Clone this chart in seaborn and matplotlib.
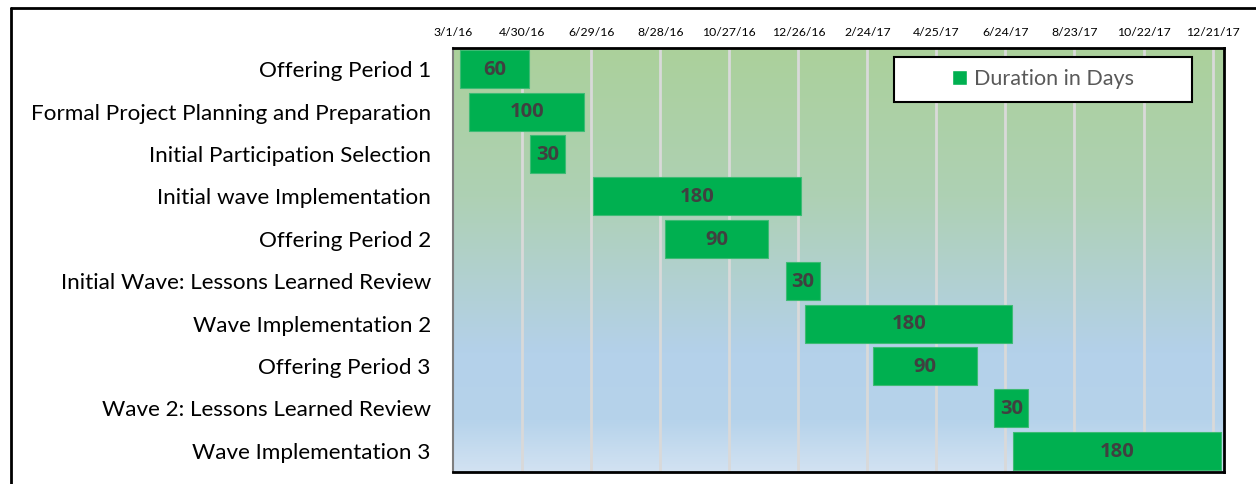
import numpy as np
import pandas as pd
import matplotlib
matplotlib.use('Agg')
import matplotlib.pyplot as plt
import matplotlib.dates as mdates
from matplotlib.colors import LinearSegmentedColormap
from matplotlib.lines import Line2D
from matplotlib.patches import Rectangle, Patch
import seaborn as sns

# ---- data ----
tasks = [
    'Offering Period 1',
    'Formal Project Planning and Preparation',
    'Initial Participation Selection',
    'Initial wave Implementation',
    'Offering Period 2',
    'Initial Wave: Lessons Learned Review',
    'Wave Implementation 2',
    'Offering Period 3',
    'Wave 2: Lessons Learned Review',
    'Wave Implementation 3',
]
starts = ['2016-03-07', '2016-03-15', '2016-05-07', '2016-07-01', '2016-09-01',
          '2016-12-15', '2017-01-01', '2017-03-01', '2017-06-14', '2017-07-01']
durations = [60, 100, 30, 180, 90, 30, 180, 90, 30, 180]

df = pd.DataFrame({'task': tasks, 'start': pd.to_datetime(starts), 'days': durations})

BAR = '#00B050'
sns.set_theme(style='white')
plt.rcParams['font.family'] = ['Lato', 'DejaVu Sans']

fig = plt.figure(figsize=(12.56, 4.84), dpi=100)
ax = fig.add_axes([0.3607, 0.0248, 0.6139, 0.876])

x0 = mdates.date2num(pd.Timestamp('2016-03-01'))
x1 = mdates.date2num(pd.Timestamp('2017-12-31'))

# gradient background (green top -> blue -> light blue bottom)
cmap = LinearSegmentedColormap.from_list('bg', [
    (0.0, (171/255, 209/255, 155/255)),
    (0.35, (174/255, 208/255, 180/255)),
    (0.72, (180/255, 209/255, 234/255)),
    (0.88, (182/255, 211/255, 235/255)),
    (1.0, (210/255, 226/255, 242/255)),
])
grad = np.linspace(0, 1, 256).reshape(-1, 1)
ax.imshow(grad, cmap=cmap, aspect='auto', extent=[x0, x1, 9.5, -0.5], zorder=0)

# grid lines
ticks = pd.date_range('2016-03-01', periods=12, freq='60D')
for t in ticks[1:]:
    ax.axvline(mdates.date2num(t), color='#D9D9D9', lw=2, zorder=1)

left = mdates.date2num(df['start'])
ypos = np.arange(len(df))
ax.barh(ypos, df['days'], left=left, height=0.9, color=BAR,
        edgecolor='#3DBB74', linewidth=0.8, zorder=2)
for y, l, d in zip(ypos, left, df['days']):
    ax.text(l + d / 2, y + 0.02, str(d), ha='center', va='center',
            fontsize=14.5, fontweight='bold', color='#404040', zorder=3,
            family=['Open Sans', 'DejaVu Sans'])

ax.set_xlim(x0, x1)
ax.set_ylim(9.5, -0.5)
ax.set_yticks(ypos)
ax.set_yticklabels(df['task'], fontsize=16.2, color='#000000')
ax.set_xticks(mdates.date2num(ticks))
ax.set_xticklabels([f'{t.month}/{t.day}/{t.strftime("%y")}' for t in ticks],
                   fontsize=8.8, color='#000000')
ax.xaxis.tick_top()
ax.tick_params(axis='x', length=0, pad=7)
ax.tick_params(axis='y', length=0, pad=16)

for s in ['top', 'right', 'bottom']:
    ax.spines[s].set_color('black')
    ax.spines[s].set_linewidth(2)
ax.spines['left'].set_color('#7F7F7F')
ax.spines['left'].set_linewidth(1.5)

# legend
ax.add_patch(Rectangle((0.572, 0.873), 0.386, 0.106, transform=ax.transAxes,
                       facecolor='white', edgecolor='black', lw=1.5, zorder=4))
leg = ax.legend(handles=[Patch(facecolor=BAR, label='Duration in Days')],
                loc='center', bbox_to_anchor=(0.765, 0.926), frameon=False,
                fontsize=15.5, handlelength=0.7, handleheight=0.7, handletextpad=0.3)
leg.set_zorder(5)
for t in leg.get_texts():
    t.set_color('#595959')

# outer frame (top and left visible)
fig.add_artist(Line2D([11/1256, 1], [1 - 8/484, 1 - 8/484], color='black', lw=2))
fig.add_artist(Line2D([11/1256, 11/1256], [0, 1 - 8/484], color='black', lw=2))

fig.savefig('out.png', dpi=100)
